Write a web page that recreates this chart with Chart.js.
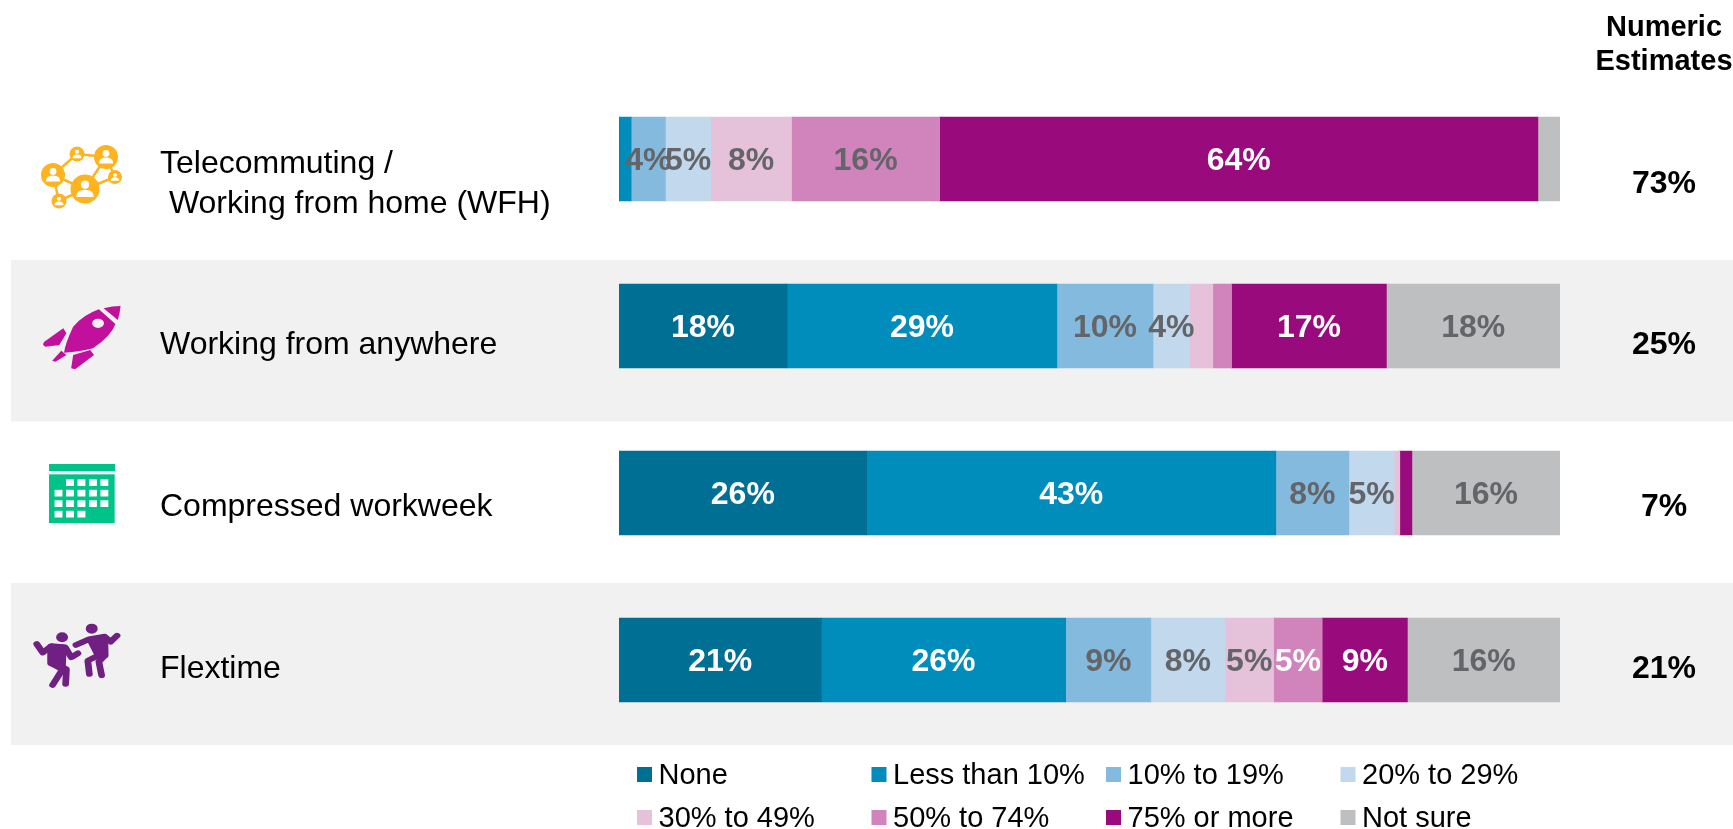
<!DOCTYPE html>
<html><head><meta charset="utf-8">
<style>html,body{margin:0;padding:0;background:#fff;overflow:hidden}#wrap{position:relative;width:1733px;height:829px}canvas{position:absolute;left:0;top:0}svg{position:absolute;left:0;top:0}</style>
<script src="https://cdn.jsdelivr.net/npm/chart.js@4/dist/chart.umd.min.js"></script>
</head><body><div id="wrap"><canvas id="c" width="1733" height="829"></canvas><svg id="icons" width="1733" height="829"></svg></div>
<script>
const categories=["Telecommuting / Working from home (WFH)","Working from anywhere","Compressed workweek","Flextime"];
const seriesNames=["None","Less than 10%","10% to 19%","20% to 29%","30% to 49%","50% to 74%","75% or more","Not sure"];
const colors=["#006F94","#008DBB","#84BADD","#C2D8EC","#E6C2DA","#D084BB","#990A7C","#BEBFC1"];
const none=[0,17.86,26.32,21.5];
const lessThan10=[1.29,28.67,43.48,25.97];
const pct10to19=[3.64,10.22,7.76,9.05];
const pct20to29=[4.82,3.88,4.82,7.87];
const pct30to49=[8.58,2.47,0.59,5.17];
const pct50to74=[15.75,2,0,5.17];
const pct75plus=[63.57,16.45,1.29,9.05];
const notSure=[2.35,18.45,15.74,16.22];
const series=[none,lessThan10,pct10to19,pct20to29,pct30to49,pct50to74,pct75plus,notSure];
const labels=[
 ["","18%","26%","21%"],["","29%","43%","26%"],["4%","10%","8%","9%"],["5%","4%","5%","8%"],
 ["8%","","","5%"],["16%","","","5%"],["64%","17%","","9%"],["","18%","16%","16%"]];
const labelColors=["#fff","#fff","#646569","#646569","#646569","#fff","#fff","#646569"];
const labelColorOverride={"5,0":"#646569"};
const numericEstimates=["73%","25%","7%","21%"];
const rowTextY=[184,345,507,669];
const font='"Liberation Sans",Arial,sans-serif';

const decor={id:'decor',
 beforeDatasetsDraw(ch){const c=ch.ctx;c.save();c.fillStyle='#F1F1F1';
  c.fillRect(11,260,1722,161.5);c.fillRect(11,583,1722,162);c.restore();},
 afterDatasetsDraw(ch){const c=ch.ctx;c.save();c.textBaseline='middle';
  c.font='bold 32px '+font;c.textAlign='center';
  ch.data.datasets.forEach((ds,i)=>{ch.getDatasetMeta(i).data.forEach((el,j)=>{
    const t=labels[i][j];if(!t)return;
    c.fillStyle=labelColorOverride[i+','+j]||labelColors[i];
    c.fillText(t,(el.x+el.base)/2,el.y+2.5);});});
  c.font='32px '+font;c.textAlign='left';c.fillStyle='#000';
  c.fillText('Telecommuting /',160,164);c.fillText(' Working from home (WFH)',160,204);
  c.fillText(categories[1],160,rowTextY[1]);c.fillText(categories[2],160,rowTextY[2]);c.fillText(categories[3],160,rowTextY[3]);
  c.font='bold 32px '+font;c.textAlign='center';
  numericEstimates.forEach((t,i)=>c.fillText(t,1664,rowTextY[i]));
  c.font='bold 29px '+font;c.fillText('Numeric',1664,28);c.fillText('Estimates',1664,62);
  c.font='29px '+font;c.textAlign='left';
  seriesNames.forEach((n,i)=>{const x=637+234.5*(i%4),y=i<4?775:818;
    c.fillStyle=colors[i];c.fillRect(x,y-8,15,15);
    c.fillStyle='#000';c.fillText(n,x+21.5,y+1);});
  c.restore();}};

new Chart(document.getElementById('c'),{type:'bar',
 data:{labels:categories,datasets:series.map((d,i)=>({label:seriesNames[i],data:d,backgroundColor:colors[i],borderWidth:0,barThickness:84}))},
 options:{indexAxis:'y',responsive:false,animation:false,
  layout:{padding:{left:619,right:173,top:75.5,bottom:85.5}},
  plugins:{legend:{display:false},tooltip:{enabled:false}},
  scales:{x:{stacked:true,min:0,max:100,display:false},y:{stacked:true,display:false}}},
 plugins:[decor]});

// icons (decorative)
const nodes=[[53,175,12],[85,189,14.5],[106,157,12],[77,154,7.5],[115,177,7],[59,201,7.5]];
const links=[[0,3],[3,2],[2,1],[1,0],[2,4],[1,4],[0,5],[5,1]];
let s='';
links.forEach(([a,b])=>{s+=`<line x1="${nodes[a][0]}" y1="${nodes[a][1]}" x2="${nodes[b][0]}" y2="${nodes[b][1]}" stroke="#FFB41F" stroke-width="2.5"/>`;});
nodes.forEach(([x,y,r])=>{s+=`<circle cx="${x}" cy="${y}" r="${r}" fill="#FFB41F"/><circle cx="${x}" cy="${y-r*0.3}" r="${r*0.28}" fill="#fff"/><path d="M${x-r*0.6},${y+r*0.55}Q${x-r*0.6},${y+r*0.05} ${x},${y+r*0.05}Q${x+r*0.6},${y+r*0.05} ${x+r*0.6},${y+r*0.55}Z" fill="#fff"/>`;});
s+=`<g transform="translate(0,100) scale(0.3954,0.3333)" fill="#C0109C">
<path d="M262,625Q285,618 305,618Q303,640 298,660Z"/>
<path d="M250,628L292,672Q280,710 235,745Q205,755 162,758Q165,730 185,680Q210,645 250,628Z"/>
<ellipse cx="248" cy="670" rx="15" ry="14" fill="#F1F1F1"/>
<path d="M160,685L112,725Q105,735 115,740L150,735L168,700Z"/><path d="M155,752L168,765L140,785L132,782Z"/><path d="M228,750L238,765L190,808L180,805L185,765Z"/></g>`;
s+=`<g transform="translate(0,430) scale(0.3954,0.3333)"><rect x="124" y="102" width="167" height="21" fill="#00C389"/><rect x="124" y="133" width="166" height="146" fill="#00C389"/>`;
const calRows=[[1,2,3,4],[0,1,2,3,4],[0,1,2,3,4],[0,1,2]];
calRows.forEach((r,ri)=>r.forEach(ci=>{s+=`<rect x="${138+29*ci}" y="${148+31.5*ri}" width="20" height="20" fill="#fff"/>`;}));
s+='</g>';
s+=`<g transform="translate(0,430) scale(0.3954,0.3333)" fill="none" stroke="#702082" stroke-width="17" stroke-linecap="round" stroke-linejoin="round">
<ellipse cx="157" cy="622" rx="15" ry="15" fill="#702082" stroke="none"/><ellipse cx="232" cy="596" rx="15" ry="15" fill="#702082" stroke="none"/>
<path d="M93,642L108,668L130,648L165,652L180,682L197,670"/>
<path d="M128,650L160,652L158,708L128,700Z" fill="#702082"/>
<path d="M130,700L158,718L133,765"/><path d="M150,705L168,718L166,762"/>
<path d="M192,645L225,628L265,620L280,635L296,617"/>
<path d="M228,630L265,622L266,676L248,676Z" fill="#702082"/>
<path d="M250,676L222,692L226,732"/><path d="M262,680L250,695L257,736"/></g>`;
document.getElementById('icons').innerHTML=s;
</script></body></html>
